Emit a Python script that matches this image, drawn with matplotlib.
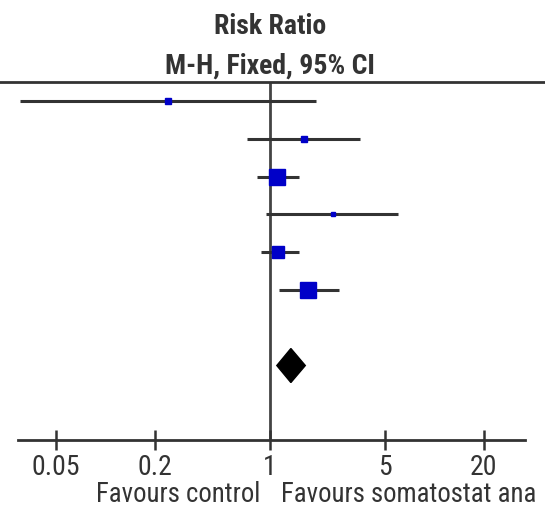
import numpy as np
import matplotlib.pyplot as plt
from matplotlib.lines import Line2D

plt.rcParams['font.family'] = ['Roboto Condensed', 'Liberation Sans Narrow', 'DejaVu Sans']

# studies: risk ratio and 95% CI
rr = [0.24, 1.60, 1.10, 2.41, 1.12, 1.70]
ci_lo = [0.030, 0.725, 0.837, 0.952, 0.882, 1.139]
ci_hi = [1.905, 3.55, 1.50, 6.02, 1.50, 2.62]
weights = [3.7, 3.7, 38.3, 2.4, 18.1, 33.8]

# pooled estimate
pooled = 1.34
pooled_lo = 1.10
pooled_hi = 1.64

ticks = [0.05, 0.2, 1, 5, 20]
tick_labels = ['0.05', '0.2', '1', '5', '20']

W, H = 545, 509
fig = plt.figure(figsize=(W / 100, H / 100), dpi=100)
ax = fig.add_axes([18 / W, (H - 440) / H, (525 - 18) / W, (440 - 82) / H])
ax.set_xscale('log')
ax.set_xlim(0.0293, 35.6)
ax.set_ylim(8.97, -0.5)

rows = np.arange(len(rr))
ax.hlines(rows, ci_lo, ci_hi, color='#333333', lw=2.2, zorder=2)
sizes = 2.6 * 0.72 * np.sqrt(weights)
for y, x, s in zip(rows, rr, sizes):
    ax.plot(x, y, marker='s', ms=s, color='#0000c8', mec='#0000c8', zorder=3)

# diamond for the pooled result
yd = len(rr) + 1
ax.fill([pooled_lo, pooled, pooled_hi, pooled],
        [yd, yd - 0.45, yd, yd + 0.45], color='black', zorder=3)

# line of no effect
ax.axvline(1, color='#444444', lw=2, zorder=1)

for side in ['top', 'left', 'right']:
    ax.spines[side].set_visible(False)
ax.spines['bottom'].set_linewidth(2)
ax.spines['bottom'].set_color('#333333')
ax.set_yticks([])
ax.set_xticks(ticks)
ax.set_xticklabels(tick_labels)
ax.minorticks_off()
ax.tick_params(axis='x', direction='inout', length=14, width=1.8, color='#333333',
               labelsize=20, labelcolor='#333333', pad=3)

# top rule over the whole width
fig.add_artist(Line2D([0, 1], [(H - 82) / H] * 2, transform=fig.transFigure,
                      color='#333333', lw=2))

fig.text(270 / W, (H - 27) / H, 'Risk Ratio', ha='center', va='center',
         fontsize=20, fontweight='bold', color='#333333')
fig.text(270 / W, (H - 66) / H, 'M-H, Fixed, 95% CI', ha='center', va='center',
         fontsize=20, fontweight='bold', color='#333333')

fig.text(260 / W, (H - 495) / H, 'Favours control', ha='right', va='center',
         fontsize=19.3, color='#333333')
fig.text(281 / W, (H - 495) / H, 'Favours somatostat ana', ha='left', va='center',
         fontsize=19.3, color='#333333')

fig.savefig('out.png', dpi=100)
